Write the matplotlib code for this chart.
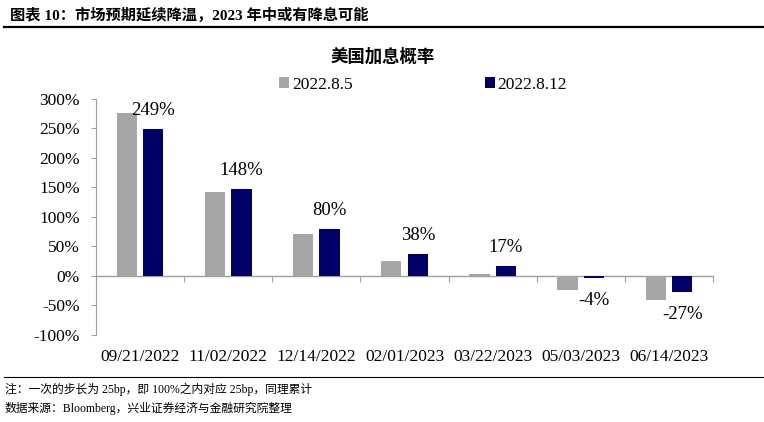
import numpy as np
import matplotlib
matplotlib.use("Agg")
import matplotlib.pyplot as plt
from matplotlib.lines import Line2D

plt.rcParams['font.family'] = ['Liberation Serif', 'Noto Sans CJK SC', 'DejaVu Sans']

dates = ["09/21/2022", "11/02/2022", "12/14/2022", "02/01/2023",
         "03/22/2023", "05/03/2023", "06/14/2023"]
s_0805 = [277, 142, 71, 25, 4, -23, -40]
s_0812 = [249, 148, 80, 38, 17, -4, -27]
series_names = ["2022.8.5", "2022.8.12"]
yticks = [-100, -50, 0, 50, 100, 150, 200, 250, 300]

gray = "#A6A6A6"
navy = "#000066"
axis_c = "#A0A0A0"

fig = plt.figure(figsize=(7.64, 4.22), dpi=100)
ax = fig.add_axes([0.1257, 0.2062, 0.8076, 0.5592])

x = np.arange(len(dates))
w = 0.23
b1 = ax.bar(x - 0.15, s_0805, w, color=gray, label=series_names[0])
b2 = ax.bar(x + 0.15, s_0812, w, color=navy, label=series_names[1])

for xi, v in zip(x, s_0812):
    if v >= 0:
        ax.annotate(f"{v}%", (xi + 0.15, v), xytext=(0, 7), textcoords="offset points",
                    ha="center", va="bottom", fontsize=13.5)
    else:
        ax.annotate(f"{v}%", (xi + 0.15, v), xytext=(0, -10), textcoords="offset points",
                    ha="center", va="top", fontsize=13.5)

ax.set_xlim(-0.5, len(dates) - 0.5)
ax.set_ylim(-100, 300)
ax.set_yticks(yticks)
ax.set_yticklabels([f"{t}%" for t in yticks])
ax.tick_params(axis="y", direction="out", length=3.5, width=0.8, color=axis_c,
               pad=8, labelsize=12.5)

# category labels at the bottom
ax.set_xticks(x)
ax.set_xticklabels(dates)
ax.tick_params(axis="x", length=0, pad=10, labelsize=12.5)

for s in ["top", "right", "bottom"]:
    ax.spines[s].set_visible(False)
ax.spines["left"].set_color(axis_c)
ax.spines["left"].set_linewidth(0.8)

# zero line with boundary ticks
sec = ax.secondary_xaxis(0.25)
sec.set_xticks(np.arange(-0.5, len(dates), 1.0))
sec.set_xticklabels([])
sec.tick_params(direction="out", length=4, width=0.8, color=axis_c)
sec.spines["bottom"].set_color(axis_c)
sec.spines["bottom"].set_linewidth(1.0)

leg = ax.legend(loc="center", bbox_to_anchor=(0.53, 1.059), ncol=2, frameon=False,
                fontsize=12.5, handlelength=0.6, handleheight=0.6,
                handletextpad=0.15, columnspacing=7.6, borderpad=0)

fig.text(383 / 764, 1 - 57 / 422, "美国加息概率", ha="center", va="center",
         fontsize=12.5, fontweight="bold", family=['Noto Sans CJK SC'])

fig.text(10 / 764, 1 - 15 / 422, "图表 10：市场预期延续降温，2023 年中或有降息可能",
         ha="left", va="center", fontsize=11, fontweight="bold")
fig.add_artist(Line2D([4 / 764, 1.0], [1 - 27 / 422, 1 - 27 / 422],
                      color="black", linewidth=1.6, transform=fig.transFigure))
fig.add_artist(Line2D([4 / 764, 1.0], [1 - 377 / 422, 1 - 377 / 422],
                      color="black", linewidth=0.8, transform=fig.transFigure))

fig.text(5 / 764, 1 - 389 / 422, "注：一次的步长为 25bp，即 100%之内对应 25bp，同理累计",
         ha="left", va="center", fontsize=8.5)
fig.text(5 / 764, 1 - 408 / 422, "数据来源：Bloomberg，兴业证券经济与金融研究院整理",
         ha="left", va="center", fontsize=8.5)

fig.savefig("out.png", dpi=100)
